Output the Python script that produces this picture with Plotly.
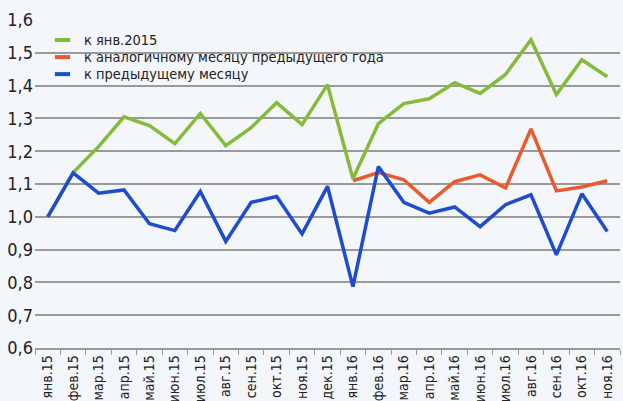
import plotly.graph_objects as go

months = ["янв.15", "фев.15", "мар.15", "апр.15", "май.15", "июн.15", "июл.15", "авг.15",
          "сен.15", "окт.15", "ноя.15", "дек.15", "янв.16", "фев.16", "мар.16", "апр.16",
          "май.16", "июн.16", "июл.16", "авг.16", "сен.16", "окт.16", "ноя.16"]

to_jan2015 = [1.00, 1.135, 1.214, 1.305, 1.278, 1.223, 1.315, 1.217, 1.272, 1.348, 1.281, 1.403,
              1.116, 1.284, 1.345, 1.360, 1.409, 1.376, 1.434, 1.540, 1.373, 1.479, 1.427]

to_same_month = [None] * 12 + [1.110, 1.135, 1.113, 1.044, 1.107, 1.128, 1.088, 1.268,
                               1.079, 1.091, 1.110]

to_prev_month = [1.000, 1.134, 1.072, 1.082, 0.979, 0.958, 1.077, 0.925, 1.044, 1.062, 0.948, 1.093,
                 0.787, 1.153, 1.044, 1.011, 1.030, 0.970, 1.037, 1.067, 0.884, 1.070, 0.955]

series_names = ["к янв.2015", "к аналогичному месяцу предыдущего года", "к предыдущему месяцу"]
series_colors = ["#86bb3a", "#ea5a2c", "#1f4ccc"]

y_ticks = [0.6, 0.7, 0.8, 0.9, 1.0, 1.1, 1.2, 1.3, 1.4, 1.5, 1.6]

FONT = "DejaVu Sans Condensed"

fig = go.Figure()
for name, color, vals in zip(series_names, series_colors,
                             [to_jan2015, to_same_month, to_prev_month]):
    fig.add_trace(go.Scatter(x=months, y=vals, mode="lines", name=name,
                             line=dict(color=color, width=3.5), showlegend=False))

# custom compact legend (top-left)
leg_y = [0.939, 0.887, 0.835]
for name, color, yy in zip(series_names, series_colors, leg_y):
    fig.add_shape(type="line", xref="paper", yref="paper", x0=0.034, x1=0.060, y0=yy, y1=yy,
                  line=dict(color=color, width=4))
    fig.add_annotation(xref="paper", yref="paper", x=0.080, y=yy, text=name, showarrow=False,
                       xanchor="left", yanchor="middle",
                       font=dict(size=14.5, family=FONT, color="#222222"))

fig.update_layout(
    width=623, height=401,
    margin=dict(l=35, r=3, t=20, b=53),
    paper_bgcolor="#f3f6fb",
    plot_bgcolor="#f3f6fb",
    separators=", ",
    font=dict(family=FONT, color="#222222"),
    showlegend=False,
    xaxis=dict(type="category", tickangle=-90, tickfont=dict(size=14, family=FONT),
               showgrid=False, showline=True, linecolor="#9a9a9a", linewidth=1.5,
               ticks="outside", tickson="boundaries", ticklen=5, tickcolor="#9a9a9a",
               range=[-0.5, len(months) - 0.5], fixedrange=True, automargin=False),
    yaxis=dict(range=[0.6, 1.6], tickvals=y_ticks, tickformat=".1f",
               tickfont=dict(size=18, family=FONT),
               showgrid=True, gridcolor="#9a9a9a", gridwidth=1.5, zeroline=False,
               showline=False, ticks="", ticklabelstandoff=1, automargin=False,
               fixedrange=True),
)

fig.write_html("out.html", config={"displayModeBar": False},
               post_script="document.body.style.margin='0';document.body.style.background='#f3f6fb';")
